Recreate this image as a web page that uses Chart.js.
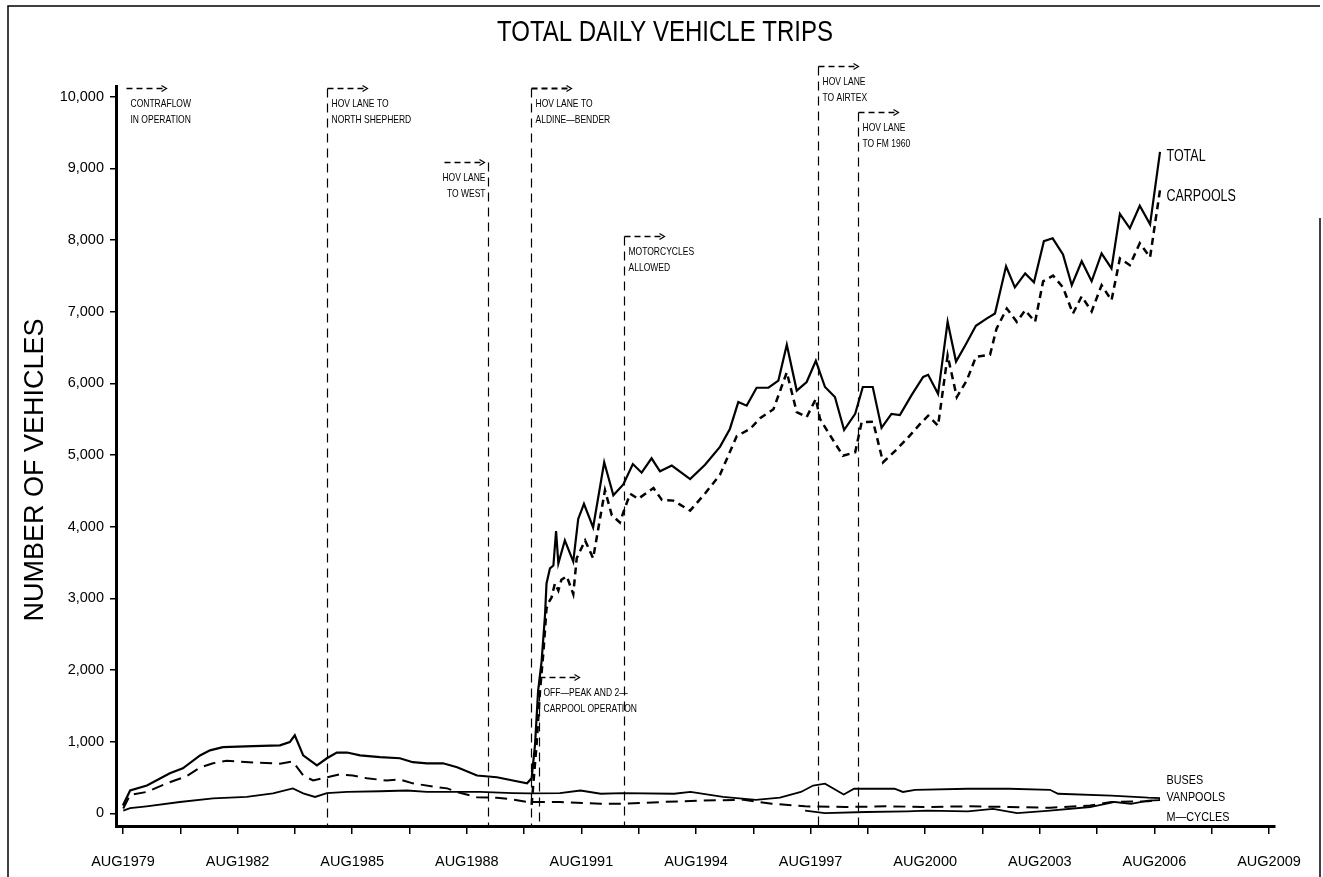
<!DOCTYPE html>
<html>
<head>
<meta charset="utf-8">
<title>Total Daily Vehicle Trips</title>
<script src="https://cdn.jsdelivr.net/npm/chart.js@4.4.1/dist/chart.umd.min.js"></script>
<style>
  html, body { margin: 0; padding: 0; background: #fff; }
  canvas { display: block; }
</style>
</head>
<body>
<canvas id="tripsChart" width="1323" height="877"></canvas>
<script>
// dates are decimal years, values are vehicles per day
const totalDates = [1979.58, 1979.77, 1980.21, 1980.81, 1981.15, 1981.60, 1981.86, 1982.20, 1982.99, 1983.69,
  1983.95, 1984.08, 1984.30, 1984.66, 1984.92, 1985.18, 1985.45, 1985.79, 1986.31, 1986.83,
  1987.17, 1987.54, 1987.96, 1988.33, 1988.85, 1989.37, 1989.79, 1990.16, 1990.28, 1990.37,
  1990.45, 1990.54, 1990.63, 1990.67, 1990.76, 1990.85, 1990.92, 1990.98, 1991.15, 1991.37,
  1991.50, 1991.65, 1991.89, 1992.18, 1992.42, 1992.68, 1992.93, 1993.16, 1993.42, 1993.64,
  1993.95, 1994.43, 1994.82, 1995.21, 1995.47, 1995.69, 1995.91, 1996.17, 1996.48, 1996.74,
  1996.96, 1997.22, 1997.48, 1997.72, 1997.96, 1998.22, 1998.46, 1998.75, 1998.95, 1999.21,
  1999.44, 1999.70, 1999.92, 2000.23, 2000.53, 2000.66, 2000.92, 2001.17, 2001.39, 2001.63,
  2001.91, 2002.19, 2002.41, 2002.70, 2002.93, 2003.20, 2003.43, 2003.69, 2003.92, 2004.19,
  2004.42, 2004.68, 2004.94, 2005.20, 2005.46, 2005.68, 2005.94, 2006.20, 2006.47, 2006.73];
const totalValues = [110, 320, 390, 560, 630, 810, 880, 925, 940, 950,
  995, 1090, 810, 670, 770, 850, 850, 810, 785, 770,
  715, 700, 700, 645, 530, 505, 460, 420, 490, 965,
  1710, 2115, 2760, 3210, 3420, 3460, 3940, 3490, 3810, 3515,
  4110, 4320, 3990, 4900, 4440, 4590, 4875, 4755, 4955, 4775,
  4855, 4665, 4865, 5115, 5365, 5740, 5690, 5940, 5940, 6040,
  6540, 5900, 6020, 6315, 5950, 5810, 5350, 5575, 5950, 5950,
  5380, 5575, 5560, 5840, 6090, 6120, 5855, 6860, 6305, 6530,
  6805, 6905, 6975, 7635, 7340, 7535, 7410, 7985, 8025, 7800,
  7370, 7705, 7425, 7815, 7605, 8365, 8165, 8480, 8220, 9230];

const carpoolDates = [1990.28, 1990.41, 1990.50, 1990.59, 1990.67, 1990.72, 1990.80, 1990.89, 1990.98, 1991.06,
  1991.20, 1991.37, 1991.46, 1991.68, 1991.89, 1992.03, 1992.20, 1992.38, 1992.59, 1992.72,
  1992.86, 1993.07, 1993.47, 1993.69, 1993.99, 1994.43, 1994.82, 1995.21, 1995.65, 1996.00,
  1996.26, 1996.61, 1996.96, 1997.22, 1997.48, 1997.72, 1997.83, 1997.96, 1998.43, 1998.75,
  1998.92, 1999.22, 1999.48, 1999.79, 2000.10, 2000.45, 2000.66, 2000.92, 2001.17, 2001.41,
  2001.67, 2001.91, 2002.28, 2002.45, 2002.72, 2002.98, 2003.20, 2003.46, 2003.67, 2003.93,
  2004.19, 2004.45, 2004.68, 2004.94, 2005.20, 2005.46, 2005.68, 2005.94, 2006.20, 2006.47,
  2006.73];
const carpoolValues = [120, 965, 1710, 2260, 2860, 2940, 3010, 3210, 3110, 3260,
  3310, 3060, 3560, 3810, 3560, 3990, 4510, 4160, 4060, 4260,
  4460, 4390, 4540, 4375, 4365, 4225, 4465, 4725, 5265, 5365,
  5515, 5640, 6155, 5600, 5530, 5785, 5505, 5390, 4990, 5040,
  5460, 5465, 4900, 5055, 5225, 5435, 5550, 5410, 6390, 5810,
  6040, 6370, 6400, 6765, 7045, 6860, 7020, 6860, 7425, 7505,
  7340, 6975, 7215, 7005, 7370, 7160, 7745, 7650, 7955, 7760,
  8700];

const busDates = [1979.59, 1979.77, 1980.20, 1981.07, 1981.94, 1982.82, 1983.51, 1984.03, 1984.30, 1984.61,
  1984.92, 1985.45, 1986.31, 1987.02, 1987.54, 1988.93, 1989.79, 1990.24, 1991.02, 1991.56,
  1992.09, 1992.67, 1994.01, 1994.44, 1995.29, 1996.15, 1996.78, 1997.33, 1997.65, 1997.96,
  1998.45, 1998.72, 1999.78, 2000.00, 2000.32, 2001.70, 2002.78, 2003.85, 2004.06, 2005.45,
  2006.42, 2006.73];
const busValues = [40, 75, 100, 160, 210, 230, 280, 350, 280, 230,
  285, 300, 310, 320, 300, 300, 285, 280, 285, 320,
  275, 285, 275, 300, 230, 190, 220, 300, 390, 415,
  265, 345, 345, 300, 330, 345, 345, 330, 275, 250,
  220, 215];

const vanpoolDates = [1979.59, 1979.77, 1980.20, 1980.73, 1981.25, 1981.60, 1981.94, 1982.30, 1982.99, 1983.69,
  1984.03, 1984.30, 1984.56, 1984.92, 1985.26, 1985.60, 1985.97, 1986.49, 1986.83, 1987.17,
  1987.70, 1988.07, 1988.33, 1988.85, 1989.37, 1989.79, 1990.18, 1991.02, 1992.09, 1992.67,
  1993.69, 1994.77, 1995.83, 1996.57, 1997.44, 1998.50, 1999.57, 2000.63, 2001.70, 2002.78,
  2003.85, 2004.90, 2005.45, 2006.42, 2006.73];
const vanpoolValues = [70, 260, 300, 420, 520, 640, 700, 735, 710, 695,
  725, 530, 460, 505, 545, 530, 490, 460, 475, 420,
  375, 350, 300, 225, 220, 195, 160, 160, 135, 135,
  160, 180, 190, 135, 100, 90, 100, 90, 100, 90,
  80, 110, 160, 170, 190];

const mcycleDates = [1997.44, 1997.96, 1999.03, 2000.11, 2000.63, 2001.70, 2002.36, 2002.99, 2003.85, 2004.90,
  2005.55, 2005.97, 2006.42, 2006.73];
const mcycleValues = [40, 5, 20, 30, 40, 30, 65, 5, 40, 90,
  160, 135, 180, 185];

const seriesNames = ['TOTAL', 'CARPOOLS', 'BUSES', 'VANPOOLS', 'M—CYCLES'];

const xTickValues = [1979.583, 1981.083, 1982.583, 1984.083, 1985.583, 1987.083, 1988.583, 1990.083,
  1991.583, 1993.083, 1994.583, 1996.083, 1997.583, 1999.083, 2000.583, 2002.083, 2003.583,
  2005.083, 2006.583, 2008.083, 2009.583];
const xTickLabels = ['AUG1979', 'AUG1982', 'AUG1985', 'AUG1988', 'AUG1991', 'AUG1994',
  'AUG1997', 'AUG2000', 'AUG2003', 'AUG2006', 'AUG2009'];
const yTickValues = [0, 1000, 2000, 3000, 4000, 5000, 6000, 7000, 8000, 9000, 10000];

// events marked with the dashed verticals
const eventDates = [1979.65, 1984.92, 1989.14, 1990.26, 1990.47, 1992.70, 1997.78, 1998.82];
const eventTexts = [
  ['CONTRAFLOW', 'IN OPERATION'],
  ['HOV LANE TO', 'NORTH SHEPHERD'],
  ['HOV LANE', 'TO WEST'],
  ['HOV LANE TO', 'ALDINE—BENDER'],
  ['OFF—PEAK AND 2—', 'CARPOOL OPERATION'],
  ['MOTORCYCLES', 'ALLOWED'],
  ['HOV LANE', 'TO AIRTEX'],
  ['HOV LANE', 'TO FM 1960']
];

const SANS = "'Liberation Sans', Arial, sans-serif";

function pairs(xs, ys) {
  return xs.map((x, i) => ({ x: x, y: ys[i] }));
}

function lineSet(label, xs, ys, width, dash) {
  return {
    label: label,
    data: pairs(xs, ys),
    borderColor: '#000',
    backgroundColor: '#000',
    borderWidth: width,
    borderDash: dash,
    pointRadius: 0,
    tension: 0,
    fill: false
  };
}

// condensed-looking text: squeeze the regular face horizontally
function squeezedText(ctx, text, x, y, size, squeeze, align) {
  ctx.save();
  ctx.font = size + 'px ' + SANS;
  ctx.textAlign = align || 'left';
  ctx.textBaseline = 'middle';
  ctx.translate(x, y);
  ctx.scale(squeeze, 1);
  ctx.fillText(text, 0, 0);
  ctx.restore();
}

// arrow tops (in data units) and text side for each event
const eventTops = [10122, 10122, 9089, 10122, 1905, 8057, 10429, 9787];
const eventSide = ['left', 'left', 'right', 'left', 'left', 'left', 'left', 'left'];

const annotationPlugin = {
  id: 'annotations',
  afterDraw(chart) {
    const ctx = chart.ctx;
    const xs = chart.scales.x;
    const ys = chart.scales.y;
    const area = chart.chartArea;
    ctx.save();
    ctx.strokeStyle = '#000';
    ctx.fillStyle = '#000';

    // scanned page frame
    ctx.lineWidth = 1.5;
    ctx.beginPath();
    ctx.moveTo(8, 877);
    ctx.lineTo(8, 6);
    ctx.lineTo(1320, 6);
    ctx.moveTo(1320, 218);
    ctx.lineTo(1320, 877);
    ctx.stroke();

    // title and y-axis title
    ctx.font = '30px ' + SANS;
    const titleText = 'TOTAL DAILY VEHICLE TRIPS';
    const tw = ctx.measureText(titleText).width;
    squeezedText(ctx, titleText, 665, 33, 30, 336 / tw, 'center');
    ctx.save();
    ctx.translate(36, 470);
    ctx.rotate(-Math.PI / 2);
    ctx.font = '27px ' + SANS;
    ctx.textAlign = 'center';
    ctx.textBaseline = 'middle';
    ctx.fillText('NUMBER OF VEHICLES', 0, 0);
    ctx.restore();

    eventDates.forEach((d, i) => {
      const x = Math.round(xs.getPixelForValue(d)) + 0.5;
      const y = Math.round(ys.getPixelForValue(eventTops[i])) + 0.5;
      ctx.lineWidth = 1.2;
      ctx.setLineDash([9, 6]);
      if (i > 0) {
        ctx.beginPath();
        ctx.moveTo(x, y);
        ctx.lineTo(x, area.bottom);
        ctx.stroke();
      }
      // arrow
      const ax0 = eventSide[i] === 'left' ? x : x - 44;
      const ax1 = ax0 + 40;
      ctx.lineWidth = i === 3 ? 2.2 : 1.3;
      ctx.setLineDash([6, 4]);
      ctx.beginPath();
      ctx.moveTo(ax0, y);
      ctx.lineTo(ax1 - 2, y);
      ctx.stroke();
      ctx.setLineDash([]);
      ctx.lineWidth = 1.2;
      ctx.beginPath();
      ctx.moveTo(ax1 - 5, y - 3);
      ctx.lineTo(ax1, y);
      ctx.lineTo(ax1 - 5, y + 3);
      ctx.stroke();
      // text
      const left = eventSide[i] === 'left';
      const tx = left ? x + 4 : x - 3;
      eventTexts[i].forEach((t, k) => squeezedText(ctx, t, tx, y + 15 + k * 16, 11.5, 0.74, left ? 'left' : 'right'));
    });

    // series names at the right end
    const lx = xs.getPixelForValue(2006.9);
    const labelAt = [9161, 8603, 467, 230, -50];
    seriesNames.forEach((n, i) => {
      if (i < 2) squeezedText(ctx, n, lx, ys.getPixelForValue(labelAt[i]), 16, 0.78);
      else squeezedText(ctx, n, lx, ys.getPixelForValue(labelAt[i]), 13.5, 0.8);
    });
    ctx.restore();
  }
};

new Chart(document.getElementById('tripsChart').getContext('2d'), {
  type: 'line',
  data: {
    datasets: [
      lineSet(seriesNames[0], totalDates, totalValues, 2.2, []),
      lineSet(seriesNames[1], carpoolDates, carpoolValues, 2.5, [7, 5]),
      lineSet(seriesNames[2], busDates, busValues, 1.8, []),
      lineSet(seriesNames[3], vanpoolDates, vanpoolValues, 2, [12, 7]),
      lineSet(seriesNames[4], mcycleDates, mcycleValues, 1.8, [])
    ]
  },
  options: {
    responsive: false,
    animation: false,
    devicePixelRatio: 1,
    layout: { padding: { left: 0, right: 48, top: 86, bottom: 0 } },
    plugins: {
      legend: { display: false },
      tooltip: { enabled: false },
      title: { display: false }
    },
    scales: {
      x: {
        type: 'linear',
        min: 1979.40,
        max: 2009.74,
        afterBuildTicks: scale => { scale.ticks = xTickValues.map(v => ({ value: v })); },
        afterFit: scale => { scale.height = 51; },
        grid: { display: true, drawOnChartArea: false, drawTicks: true, tickLength: 8, color: '#000', lineWidth: 1.5 },
        border: { display: true, color: '#000', width: 3 },
        ticks: {
          autoSkip: false,
          maxRotation: 0,
          padding: 19,
          color: '#000',
          font: { family: SANS, size: 14.5 },
          callback: function(value, index) {
            return index % 2 === 0 ? xTickLabels[index / 2] : '';
          }
        }
      },
      y: {
        min: -175,
        max: 10150,
        afterBuildTicks: scale => { scale.ticks = yTickValues.map(v => ({ value: v })); },
        afterFit: scale => { scale.width = 116; },
        grid: { display: true, drawOnChartArea: false, drawTicks: true, tickLength: 6, color: '#000', lineWidth: 1.5 },
        border: { display: true, color: '#000', width: 3 },
        ticks: {
          padding: 6,
          color: '#000',
          font: { family: SANS, size: 14.5 },
          callback: value => value.toLocaleString('en-US')
        }
      }
    }
  },
  plugins: [annotationPlugin]
});
</script>
</body>
</html>
